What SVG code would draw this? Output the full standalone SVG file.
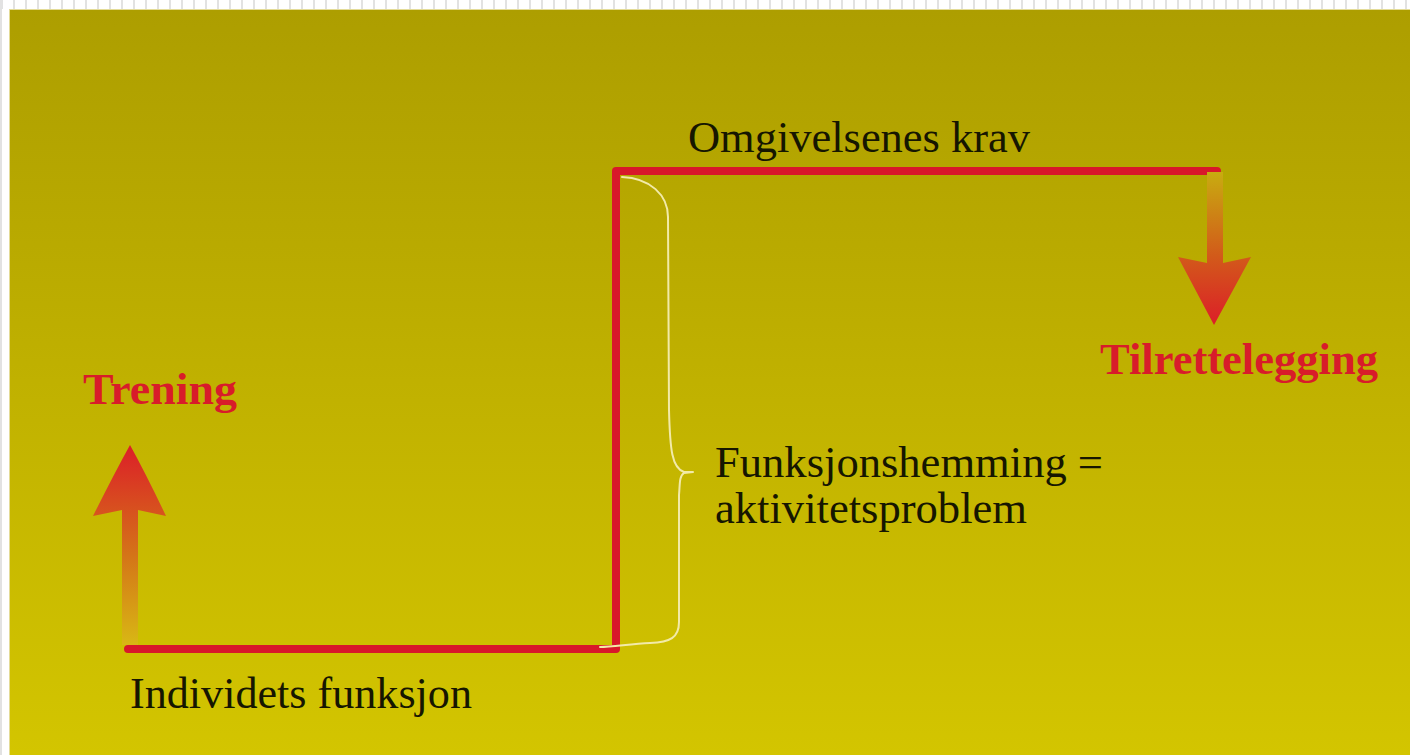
<svg xmlns="http://www.w3.org/2000/svg" width="1410" height="755" viewBox="0 0 1410 755">
  <defs>
    <pattern id="checks" x="1" y="0" width="12" height="755" patternUnits="userSpaceOnUse">
      <rect x="0" y="0" width="2" height="755" fill="#e2e2e2"/>
    </pattern>
    <linearGradient id="bg" x1="0" y1="0" x2="0" y2="1">
      <stop offset="0" stop-color="#ad9e00"/>
      <stop offset="0.5" stop-color="#c0b100"/>
      <stop offset="1" stop-color="#d3c500"/>
    </linearGradient>
    <linearGradient id="upArrow" gradientUnits="userSpaceOnUse" x1="0" y1="645" x2="0" y2="445">
      <stop offset="0" stop-color="#d8b814"/>
      <stop offset="0.45" stop-color="#d47418"/>
      <stop offset="1" stop-color="#dc1e28"/>
    </linearGradient>
    <linearGradient id="downArrow" gradientUnits="userSpaceOnUse" x1="0" y1="172" x2="0" y2="325">
      <stop offset="0" stop-color="#c8ac10"/>
      <stop offset="0.55" stop-color="#d25a1a"/>
      <stop offset="1" stop-color="#dc1e28"/>
    </linearGradient>
    <style>
      .lbl { font-family: "Liberation Serif", "Times New Roman", serif; font-size: 44px; fill: #161600; }
      .red { font-family: "Liberation Serif", "Times New Roman", serif; font-size: 45px; font-weight: bold; fill: #d81c2a; }
      .step { fill: none; stroke: #d8182a; stroke-width: 8; stroke-linejoin: round; stroke-linecap: round; }
      .brace { fill: none; stroke: #f2eaa8; stroke-width: 2; stroke-linejoin: round; stroke-linecap: round; }
    </style>
  </defs>

  <rect x="0" y="0" width="1410" height="755" fill="#ffffff"/>
  <rect x="0" y="0" width="1410" height="9" fill="url(#checks)"/>
  <rect x="0" y="0" width="2" height="755" fill="#e2e2e2"/>
  <rect x="9" y="9" width="1401" height="746" fill="url(#bg)"/>
  <rect x="9.5" y="9.5" width="1401" height="746" fill="none" stroke="#e4dc98" stroke-width="1"/>

  <g id="connectors">
    <path class="step" d="M128,649 H616 V171 H1217"/>
    <path id="brace" class="brace" d="M622,177 C650,178 668,195 668,217 L669,410 C670,450 672,468 684,472 L693,472 L684,473 C679,476 680,485 679,495 L679,622 C679,638 670,642 650,643 C630,644 612,647 600,647"/>
  </g>

  <g id="arrow-trening">
    <path fill="url(#upArrow)" d="M122,645 V510 L93,516 Q114,474 130,445 Q146,474 166,516 L138,510 V645 Z"/>
  </g>
  <g id="arrow-tilrettelegging">
    <path fill="url(#downArrow)" d="M1207,172 V263 L1178,257 L1214,325 L1251,257 L1223,263 V172 Z"/>
  </g>

  <g id="node-omgivelsenes">
    <text class="lbl" x="688" y="152" textLength="342" lengthAdjust="spacingAndGlyphs">Omgivelsenes krav</text>
  </g>
  <g id="node-individets">
    <text class="lbl" x="130" y="708" textLength="342" lengthAdjust="spacingAndGlyphs">Individets funksjon</text>
  </g>
  <g id="node-funksjonshemming">
    <text class="lbl" x="715" y="477" textLength="388" lengthAdjust="spacingAndGlyphs">Funksjonshemming =</text>
    <text class="lbl" x="715" y="523" textLength="312" lengthAdjust="spacingAndGlyphs">aktivitetsproblem</text>
  </g>
  <g id="node-trening">
    <text class="red" x="83" y="404" textLength="154" lengthAdjust="spacingAndGlyphs">Trening</text>
  </g>
  <g id="node-tilrettelegging">
    <text class="red" x="1100" y="374" textLength="278" lengthAdjust="spacingAndGlyphs">Tilrettelegging</text>
  </g>
</svg>
